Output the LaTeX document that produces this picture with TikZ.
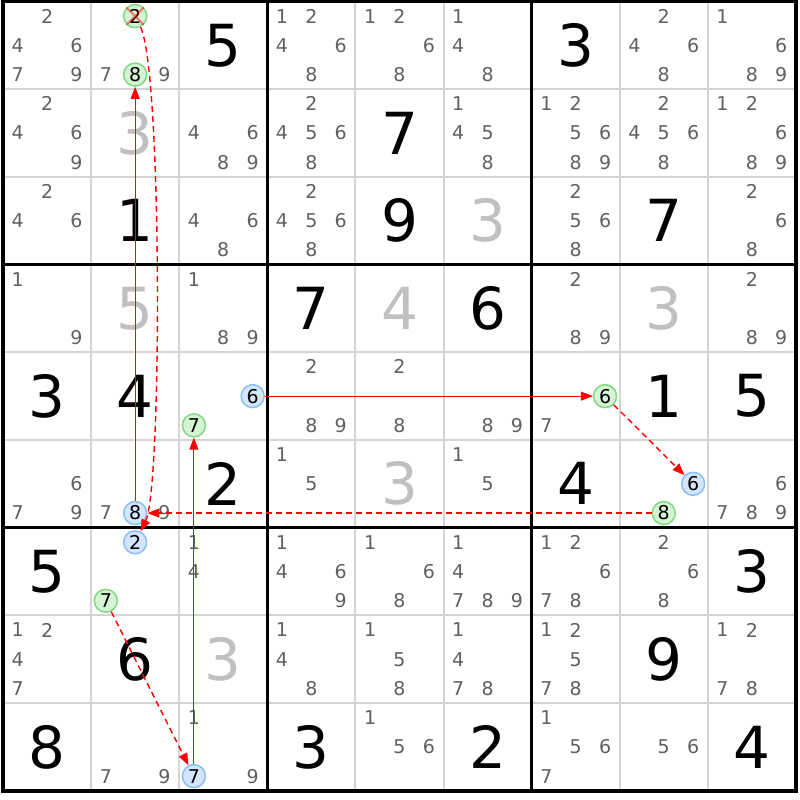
\documentclass[tikz,border=0pt]{standalone}
\usepackage{fontspec}
\setmainfont{DejaVu Sans}
\usepackage{tikz}
\usetikzlibrary{arrows.meta}

\definecolor{candgray}{RGB}{96,96,96}
\definecolor{solvedgray}{RGB}{192,192,192}
\definecolor{gridgray}{RGB}{212,212,212}
\definecolor{ongreen}{RGB}{130,215,130}
\definecolor{ongreenfill}{RGB}{212,244,212}
\definecolor{offblue}{RGB}{140,190,245}
\definecolor{offbluefill}{RGB}{212,230,255}

\begin{document}
\begin{tikzpicture}[x=1pt,y=-1pt,>={Triangle[length=12pt,width=9pt]},
	given/.style={font=\fontsize{58}{62}\selectfont,text=black,inner sep=0pt},
	solved/.style={given,text=solvedgray},
	cand/.style={font=\fontsize{19}{22}\selectfont,text=candgray,inner sep=0pt},
	oncand/.style={cand,text=black,circle,draw=ongreen,fill=ongreenfill,line width=1.5pt,minimum size=23pt},
	offcand/.style={oncand,draw=offblue,fill=offbluefill},
	link/.style={->,red,line width=1pt},
	weaklink/.style={link,line width=1.4pt,dash pattern=on 6pt off 4pt}]
	\useasboundingbox (0,0) rectangle (800,800);

	% grid
	\foreach \i in {1,2,4,5,7,8} {
		\draw[gridgray,line width=2pt] ({3+\i*88.1},1.5) -- ({3+\i*88.1},791);
		\draw[gridgray,line width=2pt] (3,{1.5+\i*87.7}) -- (796,{1.5+\i*87.7});
	}
	\foreach \i in {3,6} {
		\draw[black,line width=3pt] ({3+\i*88.1},1.5) -- ({3+\i*88.1},791);
		\draw[black,line width=3pt] (3,{1.5+\i*87.7}) -- (796,{1.5+\i*87.7});
	}
	\draw[black,line width=4pt] (3,1.5) rectangle (796,791);

	% big digits
	\foreach \r/\c/\d in {1/3/5,1/7/3,2/5/7,3/2/1,3/5/9,3/8/7,4/4/7,4/6/6,5/1/3,5/2/4,5/8/1,5/9/5,
		6/3/2,6/7/4,7/1/5,7/9/3,8/2/6,8/8/9,9/1/8,9/4/3,9/6/2,9/9/4}
		\node[given] (g\r\c) at ({3+(\c-0.5)*88.1},{1.5+(\r-0.5)*87.7}) {\d};
	\foreach \r/\c/\d in {2/2/3,3/6/3,4/2/5,4/5/4,4/8/3,6/5/3,8/3/3}
		\node[solved] (s\r\c) at ({3+(\c-0.5)*88.1},{1.5+(\r-0.5)*87.7}) {\d};

	% candidates
	\foreach \r/\c/\l in {
		1/1/{2,4,6,7,9},1/2/{7,9},1/4/{1,2,4,6,8},1/5/{1,2,6,8},1/6/{1,4,8},1/8/{2,4,6,8},1/9/{1,6,8,9},
		2/1/{2,4,6,9},2/3/{4,6,8,9},2/4/{2,4,5,6,8},2/6/{1,4,5,8},2/7/{1,2,5,6,8,9},2/8/{2,4,5,6,8},2/9/{1,2,6,8,9},
		3/1/{2,4,6},3/3/{4,6,8},3/4/{2,4,5,6,8},3/7/{2,5,6,8},3/9/{2,6,8},
		4/1/{1,9},4/3/{1,8,9},4/7/{2,8,9},4/9/{2,8,9},
		5/4/{2,8,9},5/5/{2,8},5/6/{8,9},5/7/{7},
		6/1/{6,7,9},6/2/{7,9},6/4/{1,5},6/6/{1,5},6/9/{6,7,8,9},
		7/3/{1,4},7/4/{1,4,6,9},7/5/{1,6,8},7/6/{1,4,7,8,9},7/7/{1,2,6,7,8},7/8/{2,6,8},
		8/1/{1,2,4,7},8/4/{1,4,8},8/5/{1,5,8},8/6/{1,4,7,8},8/7/{1,2,5,7,8},8/9/{1,2,7,8},
		9/2/{7,9},9/3/{1,9},9/5/{1,5,6},9/7/{1,5,6,7},9/8/{5,6}}
		\foreach \d in \l {
			\pgfmathsetmacro\px{3+(\c-1)*88.1+14.7+mod(\d-1,3)*29.37}
			\pgfmathsetmacro\py{1.5+(\r-1)*87.7+14.6+floor((\d-1)/3)*29.23}
			\node[cand] (c\r\c\d) at (\px,\py) {\d};
		}

	% chain
	\foreach \r/\c/\d/\s in {1/2/2/oncand,1/2/8/oncand,5/3/7/oncand,5/7/6/oncand,6/8/8/oncand,7/2/7/oncand,
		6/2/8/offcand,7/2/2/offcand,5/3/6/offcand,6/8/6/offcand,9/3/7/offcand} {
		\pgfmathsetmacro\px{3+(\c-1)*88.1+14.7+mod(\d-1,3)*29.37}
		\pgfmathsetmacro\py{1.5+(\r-1)*87.7+14.6+floor((\d-1)/3)*29.23}
		\node[\s] (n\r\c\d) at (\px,\py) {\d};
	}
	\draw[red,opacity=0.5,line width=2pt] (n122.north west) -- (n122.south east)
		(n122.north east) -- (n122.south west);

	\draw[link]		(n628) -- (n128);
	\draw[weaklink]	(n122) .. controls +(27,55) and +(27,-55) .. (n722);
	\draw[weaklink]	(n688) -- (n628);
	\draw[link]		(n536) -- (n576);
	\draw[weaklink]	(n576) -- (n686);
	\draw[link]		(n937) -- (n537);
	\draw[weaklink]	(n727) -- (n937);
\end{tikzpicture}
\end{document}
